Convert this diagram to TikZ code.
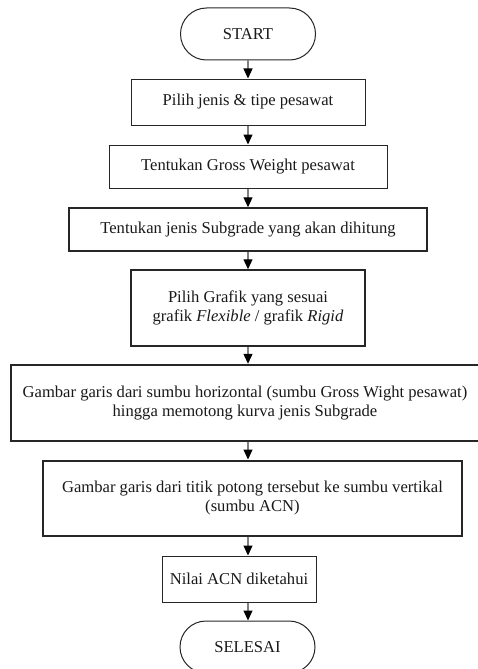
\documentclass[tikz,border=0pt]{standalone}
\usepackage{fontspec}
\setmainfont{Liberation Serif}
\usetikzlibrary{arrows.meta}
\begin{document}
\begin{tikzpicture}[x=1pt,y=-1pt,
  every node/.style={font=\fontsize{16.6}{19.5}\selectfont, text=black!90},
  stepbox/.style={draw=black!85, rectangle, inner sep=0pt, align=center, line width=#1},
  stepbox/.default=1pt,
  terminal/.style={draw=black!85, rectangle, rounded corners=26pt, inner sep=0pt,
    minimum width=135pt, minimum height=52pt, line width=1pt},
  flow/.style={draw=black!50, line width=1.2pt,
    -{Triangle[width=9pt,length=10pt,color=black]}}
]
\useasboundingbox (0,0) rectangle (478,669);
\coordinate (axis) at (248,0);

\node[terminal] (start) at (248,34) {START};
\node[stepbox, minimum width=234pt, minimum height=46pt] (b1) at (248,102)
  {Pilih jenis \& tipe pesawat};
\node[stepbox, minimum width=278pt, minimum height=43pt] (b2) at (248,166.5)
  {Tentukan Gross Weight pesawat};
\node[stepbox=1.5pt, minimum width=358pt, minimum height=43pt] (b3) at (248,229.5)
  {Tentukan jenis Subgrade yang akan dihitung};
\node[stepbox=1.5pt, minimum width=234pt, minimum height=76pt] (b4) at (248,308)
  {Pilih Grafik yang sesuai\\grafik \textit{Flexible} / grafik \textit{Rigid}};
\node[stepbox=2.4pt, minimum width=468pt, minimum height=76pt] (b5) at (245,403)
  {Gambar garis dari sumbu horizontal (sumbu Gross Wight pesawat)\\hingga memotong kurva jenis Subgrade};
\node[stepbox=2pt, minimum width=419pt, minimum height=75pt] (b6) at (252.5,498)
  {Gambar garis dari titik potong tersebut ke sumbu vertikal\\(sumbu ACN)};
\node[stepbox, minimum width=154pt, minimum height=46pt] (b7) at (239,579)
  {Nilai ACN diketahui};
\node[terminal] (end) at (247.5,647) {SELESAI};

\draw[flow] (start.south -| axis) -- (b1.north -| axis);
\draw[flow] (b1.south -| axis) -- (b2.north -| axis);
\draw[flow] (b2.south -| axis) -- (b3.north -| axis);
\draw[flow] (b3.south -| axis) -- (b4.north -| axis);
\draw[flow] (b4.south -| axis) -- (b5.north -| axis);
\draw[flow] (b5.south -| axis) -- (b6.north -| axis);
\draw[flow] (b6.south -| axis) -- (b7.north -| axis);
\draw[flow] (b7.south -| axis) -- (end.north -| axis);
\end{tikzpicture}
\end{document}
